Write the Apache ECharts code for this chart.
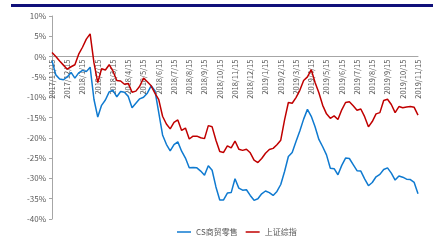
<!DOCTYPE html>
<html>
<head>
<meta charset="utf-8">
<script src="https://cdn.jsdelivr.net/npm/echarts@6/dist/echarts.min.js"></script>
<style>
html,body{margin:0;padding:0;background:#fff;}
#chart{width:433px;height:242px;}
</style>
</head>
<body>
<div id="chart"></div>
<script>
// month tick labels, 4 weekly points per month
const months = ['2017/11/15','2017/12/15','2018/1/15','2018/2/15','2018/3/15','2018/4/15','2018/5/15',
  '2018/6/15','2018/7/15','2018/8/15','2018/9/15','2018/10/15','2018/11/15','2018/12/15',
  '2019/1/15','2019/2/15','2019/3/15','2019/4/15','2019/5/15','2019/6/15','2019/7/15',
  '2019/8/15','2019/9/15','2019/10/15','2019/11/15'];

const retail = [-1.0,-4.5,-5.5,-5.7,-5.0,-3.9,-5.3,-4.0,-3.4,-3.7,-2.6,-10.5,-14.9,-12.0,-10.7,-8.7,
  -8.3,-9.9,-8.6,-8.8,-9.8,-12.6,-11.5,-10.4,-10.0,-9.0,-7.2,-8.4,-13.8,-19.3,-21.6,-23.2,
  -21.7,-21.0,-23.3,-25.0,-27.4,-27.3,-27.4,-28.2,-29.2,-26.9,-28.0,-32.1,-35.3,-35.3,-33.6,-33.5,
  -30.1,-32.4,-32.9,-32.8,-34.2,-35.4,-35.0,-33.8,-33.1,-33.5,-34.2,-33.2,-31.5,-28.3,-24.6,-23.6,
  -20.9,-18.3,-15.4,-13.0,-14.7,-17.3,-20.4,-22.2,-24.2,-27.5,-27.6,-29.1,-26.8,-25.0,-25.1,-26.6,
  -28.1,-28.2,-30.1,-31.8,-31.0,-29.6,-29.0,-27.8,-27.4,-28.7,-30.4,-29.4,-29.7,-30.2,-30.3,-31.0,-33.8];

const shIndex = [1.0,0.0,-1.1,-2.1,-3.1,-2.5,-2.0,0.6,2.3,4.3,5.6,-1.5,-6.4,-3.0,-3.3,-2.0,
  -3.6,-5.9,-6.0,-6.8,-6.6,-8.8,-8.5,-7.3,-5.3,-6.2,-7.2,-9.0,-10.6,-14.7,-16.6,-17.8,
  -16.2,-15.6,-18.2,-17.6,-20.3,-19.6,-19.6,-20.0,-20.2,-17.0,-17.3,-20.6,-23.4,-23.6,-22.0,-22.5,
  -20.8,-22.8,-23.1,-22.8,-23.7,-25.5,-26.1,-25.1,-23.8,-22.9,-22.6,-21.7,-20.6,-15.6,-11.3,-11.5,
  -10.1,-8.3,-5.9,-5.0,-3.2,-6.4,-8.9,-12.0,-14.1,-15.2,-14.6,-15.5,-13.1,-11.3,-11.1,-12.1,
  -13.2,-12.9,-14.8,-17.3,-16.0,-14.1,-13.8,-10.8,-10.5,-11.8,-13.8,-12.3,-12.6,-12.4,-12.3,-12.5,-14.4];

const categories = [];
months.forEach(function (m, i) {
  categories.push(m);
  if (i < months.length - 1) {
    for (let k = 1; k < 4; k++) categories.push(m + '#' + k);
  }
});

// y range, used to move the category axis up to the 0% line
const yMin = -40, yMax = 10;
const gridTop = 16, gridBottom = 23, chartH = 242;
const plotH = chartH - gridTop - gridBottom;
const zeroShift = plotH * (0 - yMin) / (yMax - yMin);

const chart = echarts.init(document.getElementById('chart'));
chart.setOption({
  animation: false,
  textStyle: {fontFamily: '"Noto Sans CJK SC", "Noto Sans", sans-serif'},
  graphic: [{
    type: 'rect', left: 11, top: 4,
    shape: {width: 422, height: 3},
    style: {fill: '#10107a'}
  }],
  grid: {left: 52, right: 15, top: gridTop, bottom: gridBottom},
  legend: {
    left: 172, bottom: 1,
    itemWidth: 14, itemHeight: 8, itemGap: 8,
    icon: 'path://M0,4L14,4L14,5.5L0,5.5Z',
    textStyle: {fontSize: 8, color: '#595959'},
    data: ['CS商贸零售', '上证综指']
  },
  xAxis: {
    type: 'category',
    data: categories,
    boundaryGap: false,
    position: 'bottom',
    offset: -zeroShift,
    axisLine: {onZero: false, lineStyle: {color: '#a6a6a6', width: 1}},
    axisTick: {show: false},
    axisLabel: {
      rotate: 90, fontSize: 7.5, color: '#595959', margin: 3,
      interval: 3,
      formatter: function (v) { return v.split('#')[0]; }
    },
    splitLine: {show: false}
  },
  yAxis: {
    type: 'value',
    min: yMin, max: yMax, interval: 5,
    axisLine: {show: true, lineStyle: {color: '#a6a6a6'}},
    axisTick: {show: true, length: 3, lineStyle: {color: '#a6a6a6'}},
    axisLabel: {fontSize: 8, color: '#595959', margin: 6, formatter: '{value}%'},
    splitLine: {show: false}
  },
  series: [{
    name: 'CS商贸零售',
    type: 'line',
    data: retail,
    showSymbol: false,
    lineStyle: {color: '#0f7ad0', width: 1.5},
    itemStyle: {color: '#0f7ad0'}
  }, {
    name: '上证综指',
    type: 'line',
    data: shIndex,
    showSymbol: false,
    lineStyle: {color: '#c00000', width: 1.5},
    itemStyle: {color: '#c00000'}
  }]
});
</script>
</body>
</html>
